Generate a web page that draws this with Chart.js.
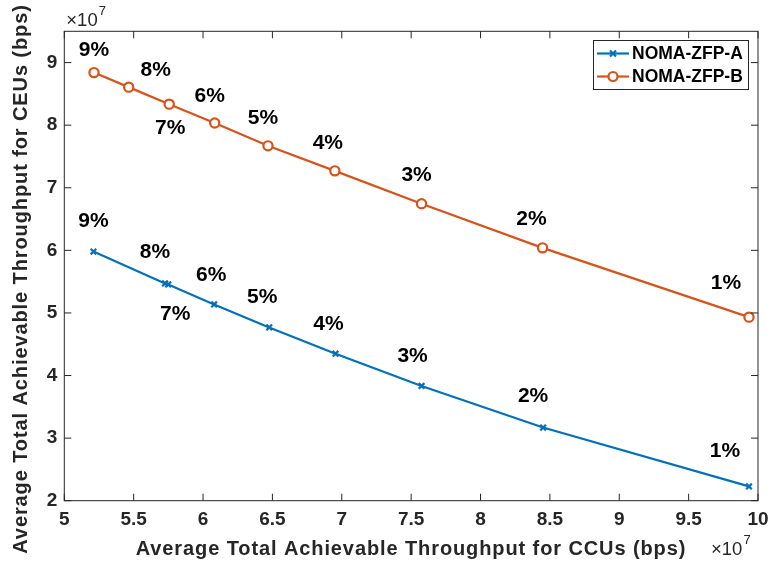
<!DOCTYPE html>
<html>
<head>
<meta charset="utf-8">
<script src="https://cdn.jsdelivr.net/npm/chart.js@4/dist/chart.umd.min.js"></script>
<style>
  html, body { margin: 0; padding: 0; background: #fff; }
  #wrap { width: 769px; height: 568px; }
</style>
</head>
<body>
<div id="wrap"><canvas id="chart" width="769" height="568"></canvas></div>
<script>
// Throughput values in units of 10^7 bps
const powerLabels = ['9%', '8%', '7%', '6%', '5%', '4%', '3%', '2%', '1%'];

const ccuA = [5.210, 5.726, 5.749, 6.080, 6.477, 6.955, 7.575, 8.451, 9.935];
const ceuA = [5.981, 5.471, 5.455, 5.136, 4.769, 4.349, 3.833, 3.169, 2.228];

const ccuB = [5.214, 5.464, 5.756, 6.084, 6.468, 6.950, 7.575, 8.447, 9.935];
const ceuB = [8.840, 8.608, 8.336, 8.034, 7.670, 7.270, 6.746, 6.040, 4.933];

const seriesNames = ['NOMA-ZFP-A', 'NOMA-ZFP-B'];
const xTitle = 'Average Total Achievable Throughput for CCUs (bps)';
const yTitle = 'Average Total Achievable Throughput for CEUs (bps)';

const BLUE = '#0072BD';
const ORANGE = '#D95319';
const AXIS = '#262626';
const FONT = '"Liberation Sans", Arial, Helvetica, sans-serif';

// pixel offsets of each percentage label relative to its marker
const labelShiftA = [[0, -30], [-10, -31], [7, 30], [-3, -29], [-7, -30], [-7, -29], [-9, -30], [-10, -31], [-24, -35]];
const labelShiftB = [[0, -22], [27, -17], [1, 24], [-5, -27], [-5, -28], [-7, -28], [-5, -28], [-11, -29], [-23, -34]];

const toPoints = (xs, ys) => xs.map((v, i) => ({ x: v, y: ys[i] }));
const plainNumber = v => String(Math.round(v * 10) / 10);

// box, inward ticks, labels, titles and legend in MATLAB style
const figureDecor = {
  id: 'figureDecor',
  afterDatasetsDraw(chart) {
    const { ctx, chartArea: a, scales: { x, y } } = chart;
    ctx.save();

    // axes box with inward ticks on all four sides
    ctx.strokeStyle = AXIS;
    ctx.lineWidth = 1;
    ctx.strokeRect(a.left, a.top, a.right - a.left, a.bottom - a.top);
    ctx.beginPath();
    const tl = 7;
    x.ticks.forEach(t => {
      const px = x.getPixelForValue(t.value);
      ctx.moveTo(px, a.bottom); ctx.lineTo(px, a.bottom - tl);
      ctx.moveTo(px, a.top); ctx.lineTo(px, a.top + tl);
    });
    y.ticks.forEach(t => {
      const py = y.getPixelForValue(t.value);
      ctx.moveTo(a.left, py); ctx.lineTo(a.left + tl, py);
      ctx.moveTo(a.right, py); ctx.lineTo(a.right - tl, py);
    });
    ctx.stroke();

    // percentage labels next to each marker
    ctx.fillStyle = '#000';
    ctx.font = 'bold 21px ' + FONT;
    ctx.textAlign = 'center';
    ctx.textBaseline = 'middle';
    [labelShiftA, labelShiftB].forEach((shift, di) => {
      const meta = chart.getDatasetMeta(di);
      meta.data.forEach((pt, i) => {
        ctx.fillText(powerLabels[i], pt.x + shift[i][0], pt.y + shift[i][1]);
      });
    });

    // axis titles
    ctx.fillStyle = AXIS;
    ctx.font = 'bold 20px ' + FONT;
    ctx.letterSpacing = '0.9px';
    ctx.textBaseline = 'alphabetic';
    ctx.textAlign = 'center';
    ctx.fillText(xTitle, 411, 555);
    ctx.save();
    ctx.translate(27, 279);
    ctx.rotate(-Math.PI / 2);
    ctx.fillText(yTitle, 0, 0);
    ctx.restore();
    ctx.letterSpacing = '0px';

    // exponent markers
    const expo = (xx, yy) => {
      ctx.textAlign = 'left';
      ctx.font = '18.5px ' + FONT;
      ctx.fillText('\u00d710', xx, yy);
      const w = ctx.measureText('\u00d710').width;
      ctx.font = '13px ' + FONT;
      ctx.fillText('7', xx + w + 1, yy - 11);
    };
    expo(a.left + 2, 26);
    expo(711, 555);

    // legend
    const lx = 593, ly = 40, lw = 155, lh = 49;
    ctx.fillStyle = '#fff';
    ctx.fillRect(lx, ly, lw, lh);
    ctx.strokeStyle = AXIS;
    ctx.lineWidth = 1;
    ctx.strokeRect(lx + 0.5, ly + 0.5, lw, lh);
    const rows = [
      { name: seriesNames[0], color: BLUE, y: 53.5, marker: 'x' },
      { name: seriesNames[1], color: ORANGE, y: 76.5, marker: 'o' }
    ];
    rows.forEach(r => {
      ctx.strokeStyle = r.color;
      ctx.lineWidth = 2.2;
      ctx.beginPath();
      ctx.moveTo(597, r.y); ctx.lineTo(629, r.y);
      ctx.stroke();
      const cx = 613;
      if (r.marker === 'x') {
        ctx.beginPath();
        ctx.moveTo(cx - 3, r.y - 3); ctx.lineTo(cx + 3, r.y + 3);
        ctx.moveTo(cx - 3, r.y + 3); ctx.lineTo(cx + 3, r.y - 3);
        ctx.stroke();
      } else {
        ctx.fillStyle = '#fff';
        ctx.beginPath();
        ctx.arc(cx, r.y, 4.5, 0, Math.PI * 2);
        ctx.fill();
        ctx.stroke();
      }
      ctx.fillStyle = '#000';
      ctx.font = 'bold 17.5px ' + FONT;
      ctx.textAlign = 'left';
      ctx.textBaseline = 'middle';
      ctx.fillText(r.name, 632, r.y + 1);
    });

    ctx.restore();
  }
};

new Chart(document.getElementById('chart'), {
  type: 'line',
  data: {
    datasets: [
      {
        label: seriesNames[0],
        data: toPoints(ccuA, ceuA),
        borderColor: BLUE,
        backgroundColor: BLUE,
        borderWidth: 2.2,
        pointStyle: 'crossRot',
        pointRadius: 4,
        pointBorderWidth: 2.2,
        pointBorderColor: BLUE,
        tension: 0
      },
      {
        label: seriesNames[1],
        data: toPoints(ccuB, ceuB),
        borderColor: ORANGE,
        backgroundColor: '#fff',
        borderWidth: 2.2,
        pointStyle: 'circle',
        pointRadius: 4.6,
        pointBorderWidth: 2.2,
        pointBorderColor: ORANGE,
        pointBackgroundColor: '#fff',
        tension: 0
      }
    ]
  },
  options: {
    responsive: false,
    animation: false,
    layout: { padding: { top: 31.3, right: 11, left: 0, bottom: 0 } },
    plugins: {
      legend: { display: false },
      tooltip: { enabled: false }
    },
    scales: {
      x: {
        type: 'linear',
        min: 5,
        max: 10,
        grid: { display: false, drawTicks: false },
        border: { display: false },
        ticks: {
          stepSize: 0.5,
          padding: 8,
          color: AXIS,
          font: { family: FONT, size: 19, weight: 'bold' },
          maxRotation: 0,
          autoSkip: false,
          callback: plainNumber
        },
        afterFit: s => { s.height = 67.3; s.paddingLeft = 0; s.paddingRight = 0; }
      },
      y: {
        type: 'linear',
        min: 2,
        max: 9.5,
        grid: { display: false, drawTicks: false },
        border: { display: false },
        ticks: {
          stepSize: 1,
          includeBounds: false,
          padding: 7,
          color: AXIS,
          font: { family: FONT, size: 19, weight: 'bold' },
          callback: plainNumber
        },
        afterFit: s => { s.width = 64.3; s.paddingTop = 0; s.paddingBottom = 0; }
      }
    }
  },
  plugins: [figureDecor]
});
</script>
</body>
</html>
